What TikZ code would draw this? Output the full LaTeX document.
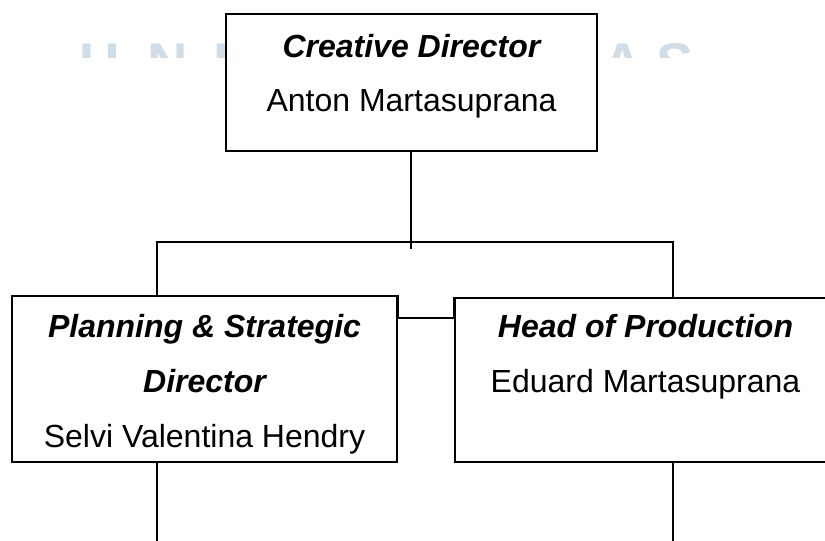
\documentclass[tikz,border=0pt]{standalone}
\usepackage{fontspec}
\setmainfont{Liberation Sans}
\definecolor{wmark}{RGB}{208,220,230}

\begin{document}
\begin{tikzpicture}[x=1pt,y=-1pt]
   \tikzstyle{box}=[draw=black, fill=white, line width=1.6pt, inner sep=0pt]
   \tikzstyle{title}=[anchor=base, font=\fontsize{32}{38}\selectfont\bfseries\itshape]
   \tikzstyle{person}=[anchor=base, font=\fontsize{32}{38}\selectfont]
   \tikzstyle{wire}=[line width=1.6pt]
   \useasboundingbox (0,0) rectangle (825,541);
   \clip (0,0) rectangle (825,541);
   % watermark, only its top strip shows beside the top box
   \begin{scope}
     \clip (0,42) rectangle (825,57);
     \foreach \x/\letter in {100/U,168/N,221/I,623/A,675/S} {
       \node[anchor=base, text=wmark, font=\fontsize{56}{60}\selectfont\bfseries] (wm\x) at (\x,82) {\letter};
     }
   \end{scope}
   % boxes
   \node[box, minimum width=371pt, minimum height=137pt] (creative) at (411.5,82.5) {};
   \node[title] (creativet) at (411.5,57) {Creative Director};
   \node[person] (creativen) at (411.5,111) {Anton Martasuprana};
   \node[box, minimum width=385pt, minimum height=166pt] (planning) at (204.5,379) {};
   \node[title] (planningt) at (204.5,337) {Planning \& Strategic};
   \node[title] (planningd) at (204.5,392) {Director};
   \node[person] (planningn) at (204.5,447) {Selvi Valentina Hendry};
   \node[box, minimum width=381pt, minimum height=164pt] (production) at (645.5,380) {};
   \node[title] (productiont) at (645.5,337) {Head of Production};
   \node[person] (productionn) at (645.5,392) {Eduard Martasuprana};
   % connectors
   \coordinate (tick) at (410.7,249);
   \coordinate (busl) at (157,242);
   \coordinate (busr) at (673,242);
   \coordinate (mid) at (425,318);
   \coordinate (endl) at (157,545);
   \coordinate (endr) at (673,545);
   \draw[wire] (creative.south -| tick) -- (tick);
   \draw[wire] (planning.north -| busl) -- (busl) -- (busr) -- (production.north -| busr);
   \draw[wire] (planning.north east) |- (mid) -| (production.north west);
   \draw[wire] (planning.south -| busl) -- (endl);
   \draw[wire] (production.south -| busr) -- (endr);
\end{tikzpicture}
\end{document}
